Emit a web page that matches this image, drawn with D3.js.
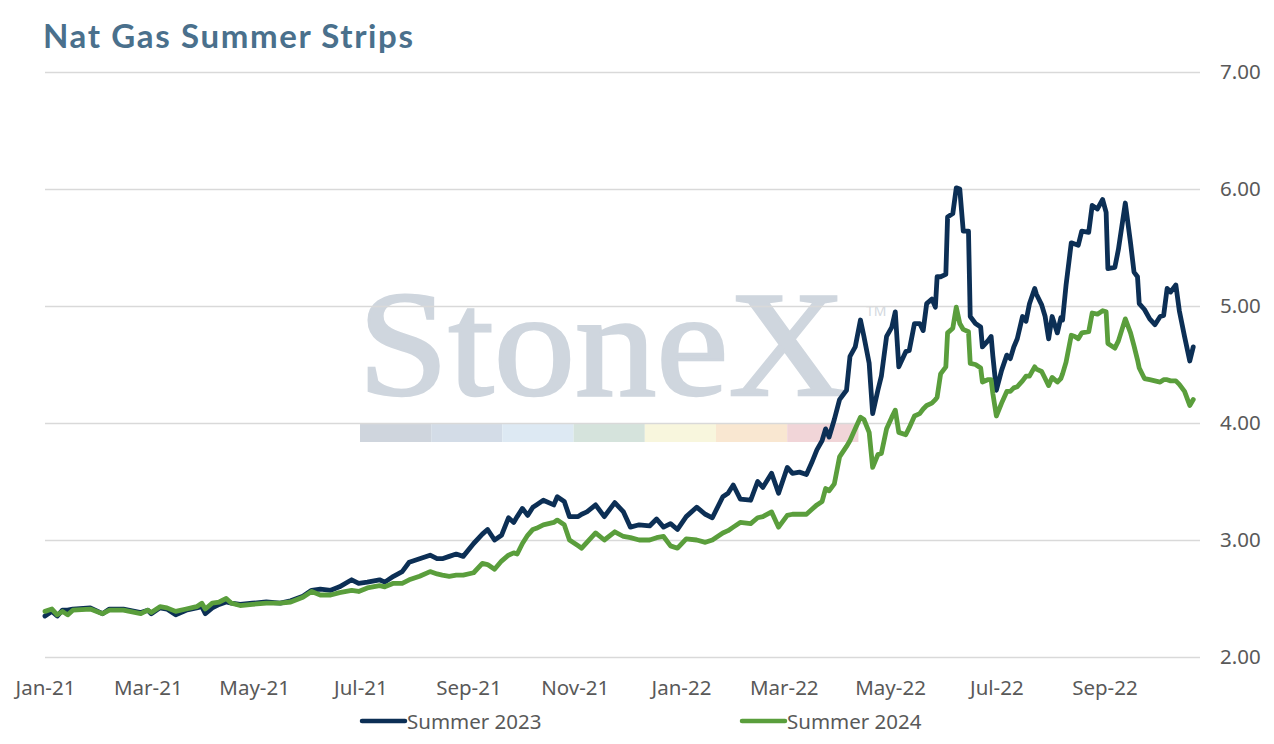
<!DOCTYPE html>
<html>
<head>
<meta charset="utf-8">
<script src="https://cdn.jsdelivr.net/npm/d3@7"></script>
<style>
    body { margin: 0; background: #fff; }
    text { font-family: "Noto Sans", Lato, sans-serif; }
</style>
</head>
<body>
<svg id="chart" width="1274" height="744"></svg>
<script>
// trade dates
var dates = [
    "2021-01-01", "2021-01-05", "2021-01-08", "2021-01-11", "2021-01-14", "2021-01-17", "2021-01-27", "2021-02-03",
    "2021-02-07", "2021-02-15", "2021-02-25", "2021-03-01", "2021-03-03", "2021-03-08", "2021-03-12", "2021-03-17",
    "2021-03-23", "2021-03-29", "2021-04-01", "2021-04-03", "2021-04-07", "2021-04-11", "2021-04-15", "2021-04-18",
    "2021-04-23", "2021-04-30", "2021-05-08", "2021-05-16", "2021-05-22", "2021-05-29", "2021-06-03", "2021-06-08",
    "2021-06-14", "2021-06-19", "2021-06-26", "2021-06-30", "2021-07-05", "2021-07-12", "2021-07-15", "2021-07-20",
    "2021-07-25", "2021-07-29", "2021-08-04", "2021-08-10", "2021-08-14", "2021-08-17", "2021-08-21", "2021-08-25",
    "2021-08-29", "2021-09-04", "2021-09-09", "2021-09-12", "2021-09-16", "2021-09-20", "2021-09-24", "2021-09-27",
    "2021-09-29", "2021-10-02", "2021-10-05", "2021-10-08", "2021-10-10", "2021-10-14", "2021-10-20", "2021-10-22",
    "2021-10-26", "2021-10-29", "2021-11-03", "2021-11-05", "2021-11-08", "2021-11-13", "2021-11-18", "2021-11-24",
    "2021-11-29", "2021-12-03", "2021-12-08", "2021-12-14", "2021-12-18", "2021-12-22", "2021-12-26", "2021-12-30",
    "2022-01-04", "2022-01-10", "2022-01-15", "2022-01-19", "2022-01-25", "2022-01-28", "2022-01-31", "2022-02-04",
    "2022-02-10", "2022-02-14", "2022-02-17", "2022-02-22", "2022-02-26", "2022-03-03", "2022-03-06", "2022-03-10",
    "2022-03-14", "2022-03-17", "2022-03-20", "2022-03-23", "2022-03-25", "2022-03-27", "2022-03-30", "2022-04-02",
    "2022-04-06", "2022-04-08", "2022-04-11", "2022-04-14", "2022-04-16", "2022-04-19", "2022-04-21", "2022-04-24",
    "2022-04-26", "2022-04-29", "2022-05-02", "2022-05-04", "2022-05-06", "2022-05-10", "2022-05-12", "2022-05-15",
    "2022-05-18", "2022-05-20", "2022-05-22", "2022-05-25", "2022-05-27", "2022-05-28", "2022-05-30", "2022-06-02",
    "2022-06-03", "2022-06-06", "2022-06-08", "2022-06-10", "2022-06-12", "2022-06-15", "2022-06-16", "2022-06-19",
    "2022-06-22", "2022-06-23", "2022-06-26", "2022-06-28", "2022-06-29", "2022-07-01", "2022-07-04", "2022-07-07",
    "2022-07-09", "2022-07-11", "2022-07-13", "2022-07-16", "2022-07-18", "2022-07-20", "2022-07-23", "2022-07-24",
    "2022-07-27", "2022-07-29", "2022-07-31", "2022-08-02", "2022-08-05", "2022-08-07", "2022-08-08", "2022-08-10",
    "2022-08-13", "2022-08-15", "2022-08-17", "2022-08-19", "2022-08-23", "2022-08-25", "2022-08-28", "2022-08-31",
    "2022-09-02", "2022-09-03", "2022-09-07", "2022-09-09", "2022-09-13", "2022-09-16", "2022-09-18", "2022-09-20",
    "2022-09-21", "2022-09-24", "2022-09-27", "2022-09-30", "2022-10-03", "2022-10-05", "2022-10-07", "2022-10-09",
    "2022-10-12", "2022-10-14", "2022-10-17", "2022-10-20", "2022-10-22"
];

var summer2023 = [
    2.35, 2.39, 2.35, 2.40, 2.40, 2.41, 2.42, 2.37, 2.41, 2.41, 2.38, 2.40, 2.37, 2.42, 2.41, 2.36,
    2.40, 2.42, 2.43, 2.37, 2.42, 2.45, 2.47, 2.46, 2.45, 2.46, 2.47, 2.46, 2.48, 2.52, 2.57, 2.58,
    2.57, 2.60, 2.66, 2.63, 2.64, 2.66, 2.64, 2.69, 2.73, 2.81, 2.84, 2.87, 2.84, 2.84, 2.86, 2.88,
    2.86, 2.97, 3.05, 3.09, 3.00, 3.04, 3.19, 3.15, 3.20, 3.27, 3.21, 3.28, 3.30, 3.34, 3.30, 3.37,
    3.33, 3.20, 3.20, 3.22, 3.24, 3.30, 3.20, 3.32, 3.24, 3.11, 3.13, 3.12, 3.18, 3.11, 3.14, 3.09,
    3.20, 3.28, 3.22, 3.19, 3.37, 3.40, 3.47, 3.35, 3.34, 3.50, 3.45, 3.57, 3.40, 3.62, 3.57, 3.58,
    3.56, 3.66, 3.77, 3.85, 3.95, 3.88, 4.03, 4.20, 4.28, 4.57, 4.65, 4.88, 4.74, 4.51, 4.08, 4.28,
    4.40, 4.74, 4.82, 4.95, 4.48, 4.61, 4.62, 4.85, 4.85, 4.79, 5.02, 5.06, 4.99, 5.25, 5.25, 5.27,
    5.76, 5.79, 6.01, 6.00, 5.64, 5.64, 4.91, 4.85, 4.82, 4.65, 4.70, 4.74, 4.57, 4.28, 4.45, 4.58,
    4.55, 4.65, 4.72, 4.91, 4.87, 5.02, 5.15, 5.10, 5.01, 4.91, 4.72, 4.91, 4.77, 4.90, 4.88, 5.18,
    5.54, 5.53, 5.52, 5.64, 5.63, 5.86, 5.83, 5.91, 5.80, 5.32, 5.33, 5.48, 5.88, 5.54, 5.29, 5.25,
    5.02, 4.97, 4.89, 4.84, 4.91, 4.92, 5.15, 5.12, 5.18, 4.96, 4.74, 4.53, 4.65
];

var summer2024 = [
    2.39, 2.41, 2.36, 2.39, 2.36, 2.40, 2.41, 2.37, 2.40, 2.40, 2.37, 2.40, 2.38, 2.43, 2.42, 2.39,
    2.41, 2.43, 2.46, 2.41, 2.46, 2.47, 2.50, 2.46, 2.44, 2.45, 2.46, 2.46, 2.47, 2.51, 2.56, 2.53,
    2.53, 2.55, 2.57, 2.56, 2.59, 2.61, 2.60, 2.63, 2.63, 2.66, 2.69, 2.73, 2.71, 2.70, 2.69, 2.70,
    2.70, 2.72, 2.80, 2.79, 2.75, 2.82, 2.87, 2.89, 2.88, 2.97, 3.04, 3.09, 3.10, 3.13, 3.15, 3.17,
    3.13, 3.00, 2.95, 2.93, 2.98, 3.06, 3.00, 3.07, 3.03, 3.02, 3.00, 3.00, 3.02, 3.03, 2.95, 2.93,
    3.01, 3.00, 2.98, 3.00, 3.06, 3.08, 3.11, 3.15, 3.14, 3.19, 3.20, 3.24, 3.11, 3.21, 3.22, 3.22,
    3.22, 3.26, 3.30, 3.33, 3.44, 3.42, 3.48, 3.71, 3.80, 3.85, 3.95, 4.05, 4.03, 3.92, 3.62, 3.73,
    3.74, 3.95, 4.05, 4.11, 3.92, 3.90, 3.96, 4.06, 4.08, 4.12, 4.15, 4.17, 4.20, 4.22, 4.42, 4.48,
    4.77, 4.81, 4.99, 4.85, 4.80, 4.78, 4.51, 4.50, 4.47, 4.35, 4.37, 4.37, 4.25, 4.06, 4.17, 4.27,
    4.27, 4.30, 4.31, 4.36, 4.40, 4.40, 4.48, 4.46, 4.44, 4.38, 4.32, 4.39, 4.35, 4.38, 4.42, 4.52,
    4.75, 4.74, 4.72, 4.77, 4.78, 4.94, 4.93, 4.96, 4.95, 4.68, 4.64, 4.70, 4.89, 4.77, 4.66, 4.54,
    4.47, 4.38, 4.37, 4.36, 4.35, 4.37, 4.37, 4.36, 4.36, 4.33, 4.27, 4.15, 4.20
];

var seriesNames = ["Summer 2023", "Summer 2024"];
var yTicks = [2, 3, 4, 5, 6, 7];
var xTickDates = ["2021-01-01", "2021-03-01", "2021-05-01", "2021-07-01", "2021-09-01", "2021-11-01",
    "2022-01-01", "2022-03-01", "2022-05-01", "2022-07-01", "2022-09-01"];

var seriesColors = ["#0c2f55", "#5a9e3c"];
var barColors = ["#cfd5dd", "#d3dce7", "#dde9f3", "#d5e3dc", "#f8f6dd", "#f9e7d1", "#f1d5d8"];
var labelColor = "#595959";

var parseDate = d3.timeParse("%Y-%m-%d");
var svg = d3.select("#chart");

var x = d3.scaleTime()
    .domain([parseDate("2021-01-01"), parseDate("2022-10-23")])
    .range([45, 1195]);

var y = d3.scaleLinear()
    .domain([2, 7])
    .range([657, 72]);

// title
svg.append("text")
    .attr("x", 43)
    .attr("y", 48)
    .attr("font-size", 33)
    .attr("font-weight", "bold")
    .attr("textLength", 370)
    .attr("lengthAdjust", "spacing")
    .attr("fill", "#4a708c")
    .style("font-family", "Lato, sans-serif")
    .text("Nat Gas Summer Strips");

// StoneX watermark behind the lines
svg.append("text")
    .attr("x", 358)
    .attr("y", 395)
    .attr("font-size", 150)
    .style("font-family", "'Liberation Serif', 'DejaVu Serif', serif")
    .attr("textLength", 488)
    .attr("lengthAdjust", "spacingAndGlyphs")
    .attr("fill", "#cfd6de")
    .attr("stroke", "#cfd6de")
    .attr("stroke-width", 2.5)
    .text("StoneX");

svg.append("text")
    .attr("x", 866)
    .attr("y", 316)
    .attr("font-size", 14)
    .attr("fill", "#d3d9e0")
    .text("TM");

svg.selectAll(".wm_bar")
    .data(barColors)
    .join("rect")
    .attr("class", "wm_bar")
    .attr("x", function(d, i) { return 360 + i * 71.2; })
    .attr("y", 424)
    .attr("width", 71.2)
    .attr("height", 18)
    .attr("fill", function(d) { return d; });

// y axis on the right, ticks used as grid lines
var yAxis = svg.append("g")
    .attr("transform", "translate(1200,0)")
    .call(d3.axisRight(y)
        .tickValues(yTicks)
        .tickSize(-1155)
        .tickPadding(20)
        .tickFormat(d3.format(".2f")));

yAxis.select(".domain").remove();
yAxis.selectAll("line")
    .attr("stroke", "#d9d9d9")
    .attr("stroke-width", 1.5);
yAxis.selectAll("text")
    .attr("font-size", 20.5)
    .attr("fill", labelColor)
    .style("font-family", "'Noto Sans', sans-serif");

// x axis labels
var xAxis = svg.append("g")
    .attr("transform", "translate(0,657)")
    .call(d3.axisBottom(x)
        .tickValues(xTickDates.map(parseDate))
        .tickSize(0)
        .tickPadding(23)
        .tickFormat(d3.timeFormat("%b-%y")));

xAxis.select(".domain").remove();
xAxis.selectAll("text")
    .attr("font-size", 20.5)
    .attr("fill", labelColor)
    .style("font-family", "'Noto Sans', sans-serif");

// lines
var lineGen = d3.line()
    .x(function(d) { return x(d.date); })
    .y(function(d) { return y(d.value); });

var series = [summer2023, summer2024].map(function(values, i) {
    return {
        name: seriesNames[i],
        color: seriesColors[i],
        points: values.map(function(v, j) { return { date: parseDate(dates[j]), value: v }; })
    };
});

svg.selectAll(".strip_line")
    .data(series)
    .join("path")
    .attr("class", "strip_line")
    .attr("d", function(d) { return lineGen(d.points); })
    .attr("fill", "none")
    .attr("stroke", function(d) { return d.color; })
    .attr("stroke-width", 4.8)
    .attr("stroke-linejoin", "round")
    .attr("stroke-linecap", "round");

// legend
var legendX = [362, 742];
var legend = svg.selectAll(".legend_item")
    .data(series)
    .join("g")
    .attr("class", "legend_item")
    .attr("transform", function(d, i) { return "translate(" + legendX[i] + ",721)"; });

legend.append("line")
    .attr("x1", 0)
    .attr("x2", 43)
    .attr("stroke", function(d) { return d.color; })
    .attr("stroke-width", 4.5)
    .attr("stroke-linecap", "round");

legend.append("text")
    .attr("x", 45)
    .attr("y", 7.5)
    .attr("font-size", 20.5)
    .attr("fill", labelColor)
    .text(function(d) { return d.name; });
</script>
</body>
</html>
